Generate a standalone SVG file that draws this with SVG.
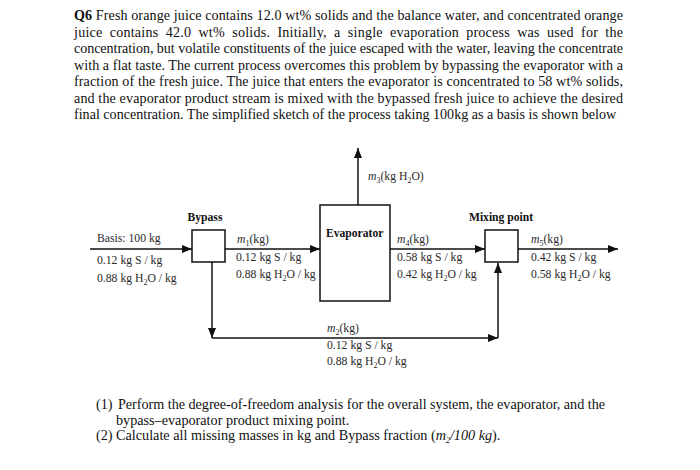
<svg xmlns="http://www.w3.org/2000/svg" width="700" height="470" viewBox="0 0 700 470">
<defs>
<style>
.t{font-family:"Liberation Serif","Times New Roman",serif;fill:#111}
.p{font-size:14.1px}
.q{font-size:14.2px}
.l{font-size:11.7px;fill:#2a2a2a}
.b{font-weight:bold;font-size:11.6px;fill:#111}
.i{font-style:italic}
.sub{font-size:8px}
.ln{stroke:#111;stroke-width:1.5;fill:none}
.bx{stroke:#111;stroke-width:1.5;fill:#fff}
</style>
<marker id="ah" markerUnits="userSpaceOnUse" markerWidth="11" markerHeight="9" refX="10" refY="4" orient="auto">
<path d="M0,0 L10,4 L0,8 z" fill="#111"/>
</marker>
</defs>
<rect width="700" height="470" fill="#fff"/>

<g id="problem-text" class="t p">
<text x="74" y="20" textLength="549" lengthAdjust="spacing"><tspan font-weight="bold">Q6</tspan>  Fresh orange juice contains 12.0 wt% solids and the balance water, and concentrated orange</text>
<text x="74" y="36.5" word-spacing="3.5" textLength="549" lengthAdjust="spacing">juice contains 42.0 wt% solids. Initially, a single evaporation process was used for the</text>
<text x="74" y="53" textLength="549" lengthAdjust="spacing">concentration, but volatile constituents of the juice escaped with the water, leaving the concentrate</text>
<text x="74" y="69.5" textLength="549" lengthAdjust="spacing">with a flat taste. The current process overcomes this problem by bypassing the evaporator with a</text>
<text x="74" y="86" textLength="549" lengthAdjust="spacing">fraction of the fresh juice. The juice that enters the evaporator is concentrated to 58 wt% solids,</text>
<text x="74" y="102.5" textLength="549" lengthAdjust="spacing">and the evaporator product stream is mixed with the bypassed fresh juice to achieve the desired</text>
<text x="74" y="119">final concentration. The simplified sketch of the process taking 100kg as a basis is shown below</text>
</g>

<g id="connectors">
<path class="ln" d="M90,249 H192" marker-end="url(#ah)"/>
<path class="ln" d="M225,249 H320" marker-end="url(#ah)"/>
<path class="ln" d="M358,205 V148" marker-end="url(#ah)"/>
<path class="ln" d="M390,249 H485" marker-end="url(#ah)"/>
<path class="ln" d="M518,249 H618" marker-end="url(#ah)"/>
<path class="ln" d="M212,262 V338" marker-end="url(#ah)"/>
<path class="ln" d="M212,338 H498" marker-end="url(#ah)"/>
<path class="ln" d="M498,338 V263" marker-end="url(#ah)"/>
</g>

<g id="bypass">
<rect class="bx" x="192" y="230" width="33" height="32"/>
<text class="t b" x="205" y="221" text-anchor="middle">Bypass</text>
</g>

<g id="evaporator">
<rect class="bx" x="320" y="205" width="70" height="96"/>
<text class="t b" x="326" y="237">Evaporator</text>
</g>

<g id="mixing-point">
<rect class="bx" x="485" y="230" width="33" height="32"/>
<text class="t b" x="501" y="221" text-anchor="middle">Mixing point</text>
</g>

<g id="stream-labels" class="t l">
<text x="97" y="242">Basis: 100 kg</text>
<text x="97" y="264">0.12 kg S / kg</text>
<text x="97" y="282">0.88 kg H<tspan class="sub" dy="2.5">2</tspan><tspan dy="-2.5">O / kg</tspan></text>

<text x="237" y="243"><tspan class="i">m</tspan><tspan class="sub" dy="2.5">1</tspan><tspan dy="-2.5">(kg)</tspan></text>
<text x="236" y="261">0.12 kg S / kg</text>
<text x="236" y="278">0.88 kg H<tspan class="sub" dy="2.5">2</tspan><tspan dy="-2.5">O / kg</tspan></text>

<text x="368" y="180"><tspan class="i">m</tspan><tspan class="sub" dy="2.5">3</tspan><tspan dy="-2.5">(kg H</tspan><tspan class="sub" dy="2.5">2</tspan><tspan dy="-2.5">O)</tspan></text>

<text x="397" y="243"><tspan class="i">m</tspan><tspan class="sub" dy="2.5">4</tspan><tspan dy="-2.5">(kg)</tspan></text>
<text x="397" y="261">0.58 kg S / kg</text>
<text x="397" y="278">0.42 kg H<tspan class="sub" dy="2.5">2</tspan><tspan dy="-2.5">O / kg</tspan></text>

<text x="531" y="243"><tspan class="i">m</tspan><tspan class="sub" dy="2.5">5</tspan><tspan dy="-2.5">(kg)</tspan></text>
<text x="531" y="261">0.42 kg S / kg</text>
<text x="531" y="278">0.58 kg H<tspan class="sub" dy="2.5">2</tspan><tspan dy="-2.5">O / kg</tspan></text>

<text x="327" y="332"><tspan class="i">m</tspan><tspan class="sub" dy="2.5">2</tspan><tspan dy="-2.5">(kg)</tspan></text>
<text x="327" y="349">0.12 kg S / kg</text>
<text x="327" y="365">0.88 kg H<tspan class="sub" dy="2.5">2</tspan><tspan dy="-2.5">O / kg</tspan></text>
</g>

<g id="questions" class="t q">
<text x="96" y="409">(1)</text>
<text x="118" y="409" textLength="487" lengthAdjust="spacing">Perform the degree-of-freedom analysis for the overall system, the evaporator, and the</text>
<text x="116" y="425">bypass–evaporator product mixing point.</text>
<text x="96" y="440">(2) Calculate all missing masses in kg and Bypass fraction (<tspan class="i">m</tspan><tspan class="i sub" dy="2.5">2</tspan><tspan class="i" dy="-2.5">/100 kg</tspan>).</text>
</g>
</svg>
